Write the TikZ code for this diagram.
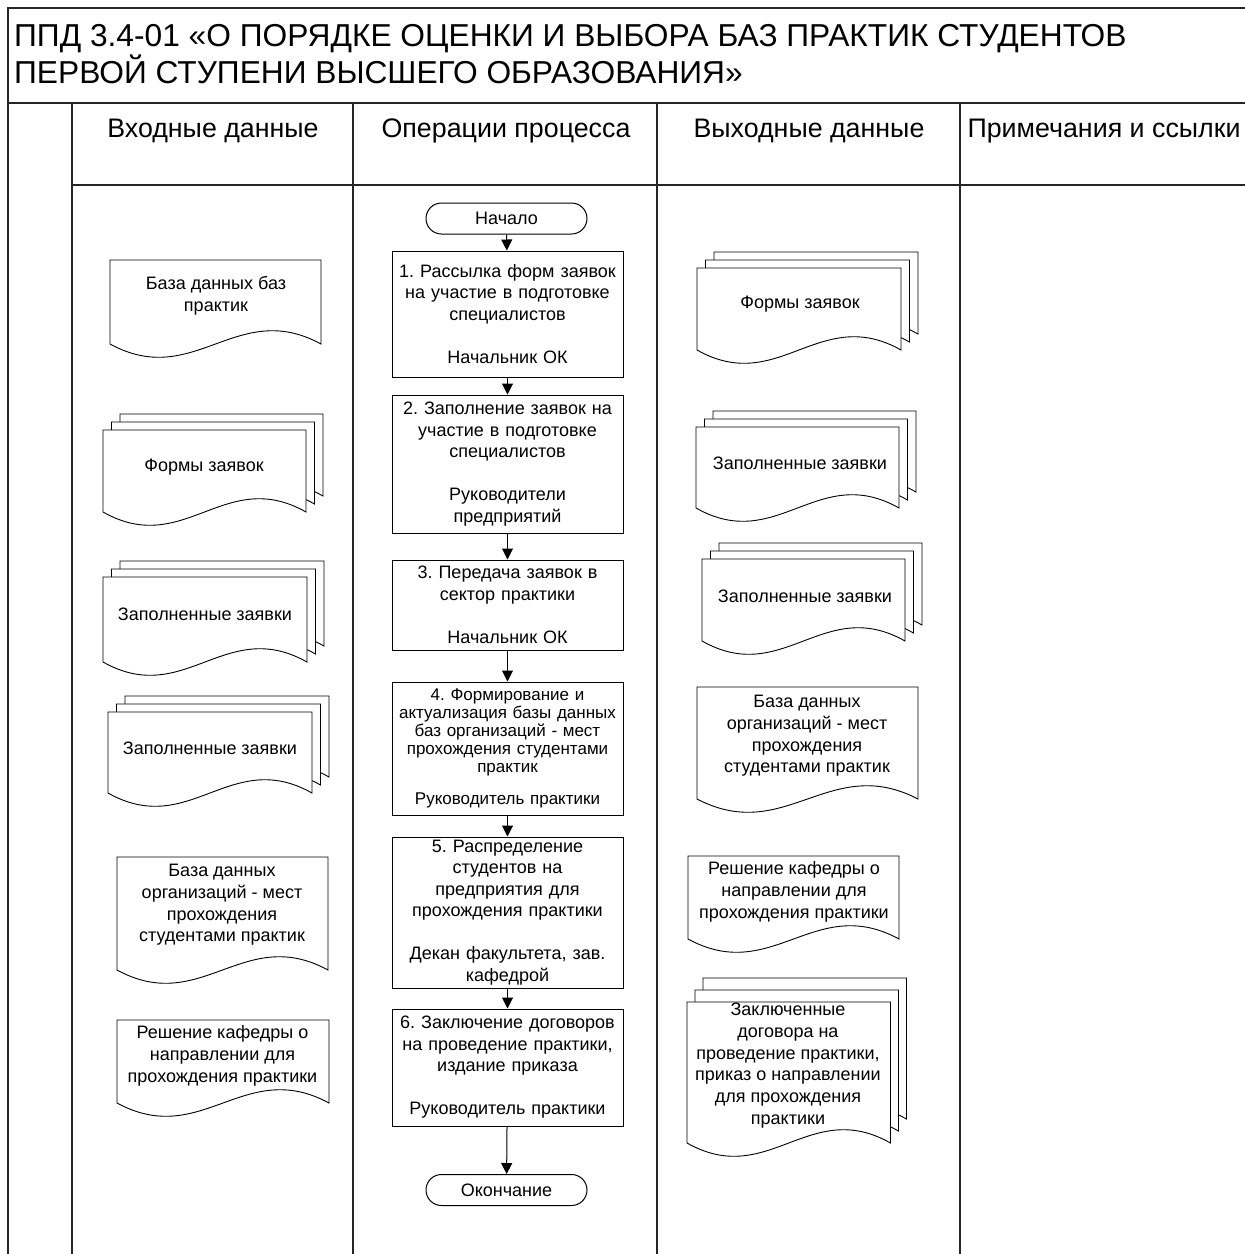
\documentclass[tikz,border=0pt]{standalone}
\usepackage{fontspec}
\setmainfont{Liberation Sans}
\usetikzlibrary{arrows.meta,shapes.misc}
\frenchspacing

\tikzset{
 frameline/.style={line width=1.8pt, draw=black!85},
 docline/.style={draw=black, line width=0.9pt, fill=white},
 procbox/.style={draw, line width=1pt, rectangle, inner sep=0pt, align=center, text width=231pt, font=\fontsize{18}{21.5}\selectfont},
 termbox/.style={draw, line width=1pt, rounded rectangle, minimum width=161pt, minimum height=31pt, inner sep=0pt, font=\fontsize{18}{21.5}\selectfont},
 doctext/.style={align=center, inner sep=0pt, font=\fontsize{18}{21.7}\selectfont},
 flow/.style={-{Triangle[width=11pt,length=11pt]}, line width=1pt},
 hdr/.style={font=\fontsize{26.8}{30}\selectfont, inner sep=0pt},
}

\newcommand\mydoc[4]{%
 \path[docline] ({#1},{#2}) -- ({#3},{#2}) -- ({#3},{#4}) .. controls ({(#1)+0.6*((#3)-(#1))},{(#4)-46}) and ({(#1)+0.4*((#3)-(#1))},{(#4)+46}) .. ({#1},{#4}) -- cycle;}
\newcommand\mymdoc[6]{%
 \mydoc{(#1)+2*(#5)}{(#2)-2*(#6)}{(#3)+2*(#5)}{(#4)-2*(#6)}%
 \mydoc{(#1)+(#5)}{(#2)-(#6)}{(#3)+(#5)}{(#4)-(#6)}%
 \mydoc{#1}{#2}{#3}{#4}}

\begin{document}
\begin{tikzpicture}[x=1pt,y=-1pt]
\useasboundingbox (0,0) rectangle (1245,1254);

% frame
\draw[frameline] (8,1254) -- (8,8) -- (1245,8);
\draw[frameline] (8,103) -- (1245,103);
\draw[frameline] (72,185) -- (1245,185);
\foreach \xx in {72,353,657,960} \draw[frameline] (\xx,103) -- (\xx,1254);

% title and headers
\node[anchor=west, align=left, inner sep=0pt, font=\fontsize{31.7}{37}\selectfont] (title) at (14,54)
 {ППД 3.4-01 «О ПОРЯДКЕ ОЦЕНКИ И ВЫБОРА БАЗ ПРАКТИК СТУДЕНТОВ\\ПЕРВОЙ СТУПЕНИ ВЫСШЕГО ОБРАЗОВАНИЯ»};
\node[hdr] (h1) at (213,131) {Входные данные};
\node[hdr] (h2) at (506,131) {Операции процесса};
\node[hdr] (h3) at (809,131) {Выходные данные};
\node[hdr] (h4) at (1104,131) {Примечания и ссылки};

% input documents
\mydoc{110}{260}{321}{344}
\mymdoc{103}{430}{306}{512}{8.5}{8}
\mymdoc{103}{577}{307}{662}{8.5}{8}
\mymdoc{108}{712}{312}{793}{8.5}{8}
\mydoc{117}{857}{328}{970}
\mydoc{117}{1020}{329}{1103}

\node[doctext] (in1) at (216,296) {База данных баз\\практик};
\node[doctext] (in2) at (204,467) {Формы заявок};
\node[doctext] (in3) at (205,614) {Заполненные заявки};
\node[doctext] (in4) at (210,748) {Заполненные заявки};
\node[doctext] (in5) at (222,905) {База данных\\организаций - мест\\прохождения\\студентами практик};
\node[doctext] (in6) at (222.5,1056) {Решение кафедры о\\направлении для\\прохождения практики};

% output documents
\mymdoc{697}{268}{901}{350}{8.5}{8}
\mymdoc{696}{427}{899}{508}{8.5}{8}
\mymdoc{702}{559}{905}{641}{8.5}{8}
\mydoc{697}{687}{918}{799}
\mydoc{688}{856}{899}{939}
\mymdoc{687}{1002}{890.5}{1143}{8}{12}

\node[doctext] (out1) at (800,304) {Формы заявок};
\node[doctext] (out2) at (800,463) {Заполненные заявки};
\node[doctext] (out3) at (805,596) {Заполненные заявки};
\node[doctext] (out4) at (807,736) {База данных\\организаций - мест\\прохождения\\студентами практик};
\node[doctext] (out5) at (794,892) {Решение кафедры о\\направлении для\\прохождения практики};
\node[doctext] (out6) at (788,1065.5) {Заключенные\\договора на\\проведение практики,\\приказ о направлении\\для прохождения\\практики};

% process
\node[termbox] (start) at (506.5,218.5) {Начало};
\node[procbox, minimum height=126pt] (p1) at (507.5,314)
 {1. Рассылка форм заявок\\на участие в подготовке\\специалистов\\[21.5pt]Начальник ОК};
\node[procbox, minimum height=138pt] (p2) at (507.5,464)
 {2. Заполнение заявок на\\участие в подготовке\\специалистов\\[21.5pt]Руководители\\предприятий};
\node[procbox, minimum height=90pt] (p3) at (507.5,605)
 {3. Передача заявок в\\сектор практики\\[21.5pt]Начальник ОК};
\node[procbox, minimum height=133pt, font=\fontsize{17}{18}\selectfont] (p4) at (507.5,748.5)
 {4. Формирование и\\актуализация базы данных\\баз организаций - мест\\прохождения студентами\\практик\\[14pt]Руководитель практики};
\node[procbox, minimum height=151pt] (p5) at (507.5,912.5)
 {5. Распределение\\студентов на\\предприятия для\\прохождения практики\\[21.5pt]Декан факультета, зав.\\кафедрой};
\node[procbox, minimum height=117pt] (p6) at (507.5,1067.5)
 {6. Заключение договоров\\на проведение практики,\\издание приказа\\[21.5pt]Руководитель практики};
\node[termbox] (end) at (506.5,1190) {Окончание};

\draw[flow] (start) -- (p1);
\draw[flow] (p1) -- (p2);
\draw[flow] (p2) -- (p3);
\draw[flow] (p3) -- (p4);
\draw[flow] (p4) -- (p5);
\draw[flow] (p5) -- (p6);
\draw[flow] (p6) -- (end);
\end{tikzpicture}
\end{document}
